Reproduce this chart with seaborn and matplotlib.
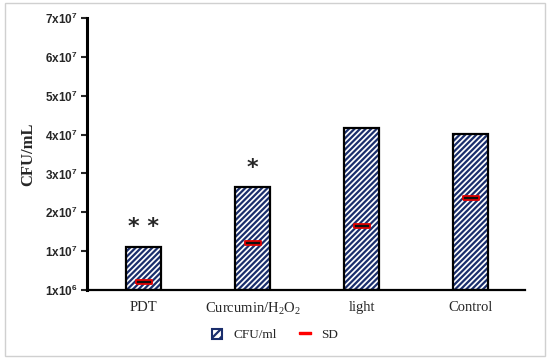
import pandas as pd
import matplotlib
matplotlib.use("Agg")
import matplotlib.pyplot as plt
import seaborn as sns
from matplotlib.patches import Patch, Rectangle
from matplotlib.lines import Line2D

# values
groups = ["PDT", "Curcumin/H$_2$O$_2$", "light", "Control"]
cfu = [1.11e7, 2.65e7, 4.18e7, 4.02e7]
sd = [0.21e7, 1.21e7, 1.65e7, 2.38e7]
stars = ["* *", "*", "", ""]
yticks = [0, 1e7, 2e7, 3e7, 4e7, 5e7, 6e7, 7e7]
ytick_labels = [r"$\mathsf{1x10^{6}}$", r"$\mathsf{1x10^{7}}$",
                r"$\mathsf{2x10^{7}}$", r"$\mathsf{3x10^{7}}$",
                r"$\mathsf{4x10^{7}}$", r"$\mathsf{5x10^{7}}$",
                r"$\mathsf{6x10^{7}}$", r"$\mathsf{7x10^{7}}$"]

sns.set_style("white")
plt.rcParams["font.family"] = ["Liberation Serif", "DejaVu Serif"]
plt.rcParams["mathtext.fontset"] = "custom"
plt.rcParams["mathtext.rm"] = "Liberation Serif"
plt.rcParams["mathtext.it"] = "Liberation Serif:italic"
plt.rcParams["mathtext.bf"] = "Liberation Serif:bold"
plt.rcParams["mathtext.sf"] = "Liberation Sans:bold"
plt.rcParams["hatch.linewidth"] = 1.6

navy = "#1a2e6c"

df = pd.DataFrame({"group": groups, "cfu": cfu, "sd": sd})

fig = plt.figure(figsize=(5.5, 3.62), dpi=100)
ax = fig.add_axes([0.158, 0.199, 0.797, 0.751])

sns.barplot(data=df, x="group", y="cfu", order=groups, color="white",
            width=0.32, edgecolor=navy, linewidth=0, hatch="//////",
            ax=ax)
# black outline over the hatched bars
for p in list(ax.patches):
    ax.add_patch(Rectangle(p.get_xy(), p.get_width(), p.get_height(),
                           fill=False, edgecolor="black", linewidth=1.6,
                           zorder=3))

sd_marker = [(-5, -1.2), (5, -1.2), (5, 1.2), (-5, 1.2), (-5, -1.2)]
sns.stripplot(data=df, x="group", y="sd", order=groups, jitter=False,
              marker=sd_marker, s=11, color="#101010", edgecolor="#e00000",
              linewidth=1.3, ax=ax, zorder=5)

for i, (v, s) in enumerate(zip(cfu, stars)):
    if s:
        ax.annotate(s, (i, v), xytext=(0, 14), textcoords="offset points",
                    ha="center", va="center", fontsize=16,
                    fontweight="bold", family="DejaVu Sans")

ax.set_xlim(-0.52, 3.5)
ax.set_ylim(0, 7e7)
ax.set_yticks(yticks)
ax.set_yticklabels(ytick_labels, fontsize=8.5)
ax.tick_params(axis="y", direction="out", length=4, width=1.5, pad=3,
               left=True)
ax.tick_params(axis="x", length=0, pad=8, labelsize=10.5)
ax.set_xlabel("")
ax.set_ylabel("CFU/mL", fontsize=12, fontweight="bold", labelpad=6)

sns.despine(ax=ax)
ax.spines["left"].set_linewidth(2.2)
ax.spines["bottom"].set_linewidth(1.6)
ax.spines["left"].set_color("black")
ax.spines["bottom"].set_color("black")

handles = [
    Patch(facecolor="white", edgecolor=navy, hatch="////",
          linewidth=1.5, label="CFU/ml"),
    Line2D([], [], linestyle="none", marker=sd_marker, markersize=8,
           markerfacecolor="red", markeredgecolor="red", label="SD"),
]
fig.legend(handles=handles, loc="center", bbox_to_anchor=(0.5, 0.075),
           ncol=2, frameon=False, fontsize=9.5, handlelength=0.8,
           handleheight=0.8, columnspacing=1.8, handletextpad=0.8)

fig.patches.append(Rectangle((0.009, 0.017), 0.982, 0.975,
                             transform=fig.transFigure, fill=False,
                             edgecolor="#d0d0d0", linewidth=1))

fig.savefig("out.png", dpi=100)
